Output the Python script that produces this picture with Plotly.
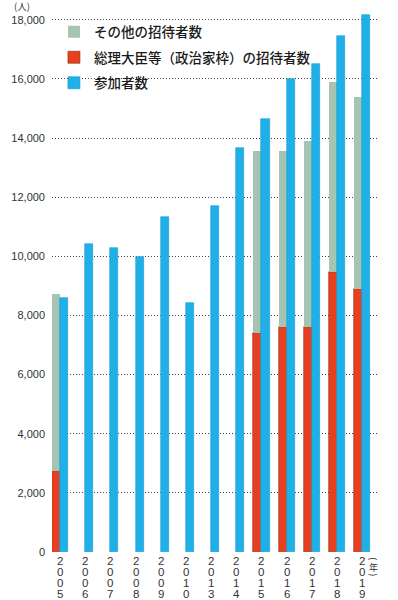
import plotly.graph_objects as go

years = ["2005", "2006", "2007", "2008", "2009", "2010", "2013", "2014",
         "2015", "2016", "2017", "2018", "2019"]
# 総理大臣等（政治家枠）の招待者数
pm_invitees = [2750, None, None, None, None, None, None, None,
               7400, 7600, 7600, 9460, 8890]
# 招待者数 合計 (総理枠 + その他)
total_invitees = [8730, None, None, None, None, None, None, None,
                  13560, 13560, 13890, 15890, 15380]
# 参加者数
participants = [8600, 10430, 10270, 9980, 11340, 8430, 11690, 13650,
                14660, 15990, 16500, 17470, 18150]

other_invitees = [(t - p) if t is not None else None
                  for t, p in zip(total_invitees, pm_invitees)]

y_ticks = [0, 2000, 4000, 6000, 8000, 10000, 12000, 14000, 16000, 18000]
y_ticktext = [f"{v:,}" for v in y_ticks]

W = 0.32
JP = "Noto Sans CJK JP"
NUM = "Liberation Sans"

fig = go.Figure()
fig.add_trace(go.Bar(
    x=years, y=pm_invitees, name="総理大臣等（政治家枠）の招待者数",
    marker=dict(color="#e8401e", line=dict(color="#8a2a1a", width=0.6)),
    width=W, offset=-W, legendrank=2, legendgroup="b",
))
fig.add_trace(go.Bar(
    x=years, y=other_invitees, base=pm_invitees, name="その他の招待者数",
    marker=dict(color="#a6c4b2", line=dict(width=0)),
    width=W, offset=-W, legendrank=1, legendgroup="a",
))
fig.add_trace(go.Bar(
    x=years, y=participants, name="参加者数",
    marker=dict(color="#20b0e8", line=dict(color="#1a9ad2", width=0.6)),
    width=W, offset=0, legendrank=3, legendgroup="c",
))

annotations = []
for idx, yr in enumerate(years):
    for i, ch in enumerate(yr):
        annotations.append(dict(
            x=idx, y=0, xref="x", yref="y", text=ch, showarrow=False,
            yanchor="middle", xanchor="center", yshift=-(9 + 11 * i),
            font=dict(family=NUM, size=11.5, color="#333"),
        ))
# (年) written vertically
for txt, ang, ys, sz in [("(", 90, -7, 9), ("年", 0, -15, 9), (")", 90, -23, 9)]:
    annotations.append(dict(
        x=0.987, y=0, xref="paper", yref="y", text=txt, showarrow=False,
        xanchor="center", yanchor="middle", yshift=ys, textangle=ang,
        font=dict(family=JP, size=sz, color="#333"),
    ))
annotations.append(dict(
    x=-0.091, y=1.0085, xref="paper", yref="paper", text="(人)", showarrow=False,
    xanchor="center", yanchor="middle",
    font=dict(family=JP, size=9.5, color="#333"),
))

fig.update_layout(
    width=398, height=600,
    margin=dict(l=50, r=20, t=11, b=48),
    paper_bgcolor="white", plot_bgcolor="white",
    barmode="overlay",
    showlegend=True,
    legend=dict(
        x=0.006, y=0.99, xanchor="left", yanchor="top",
        bgcolor="rgba(0,0,0,0)", traceorder="grouped",
        font=dict(family=JP, size=13.5, color="#1a1a1a", weight=500),
        tracegroupgap=5,
    ),
    xaxis=dict(
        type="category", range=[-0.32, 12.63], showticklabels=False,
        showgrid=False, zeroline=False, showline=False, ticks="",
    ),
    yaxis=dict(
        range=[0, 18300], tickvals=y_ticks, ticktext=y_ticktext,
        showgrid=True, gridcolor="#444", griddash="1px,2px", gridwidth=1,
        zeroline=False, showline=False, ticks="", ticklabelstandoff=6,
        tickfont=dict(family=NUM, size=11, color="#333"),
    ),
    annotations=annotations,
    bargap=0,
)

fig.write_html("out.html", config={"displayModeBar": False},
               post_script="document.body.style.margin='0';")
